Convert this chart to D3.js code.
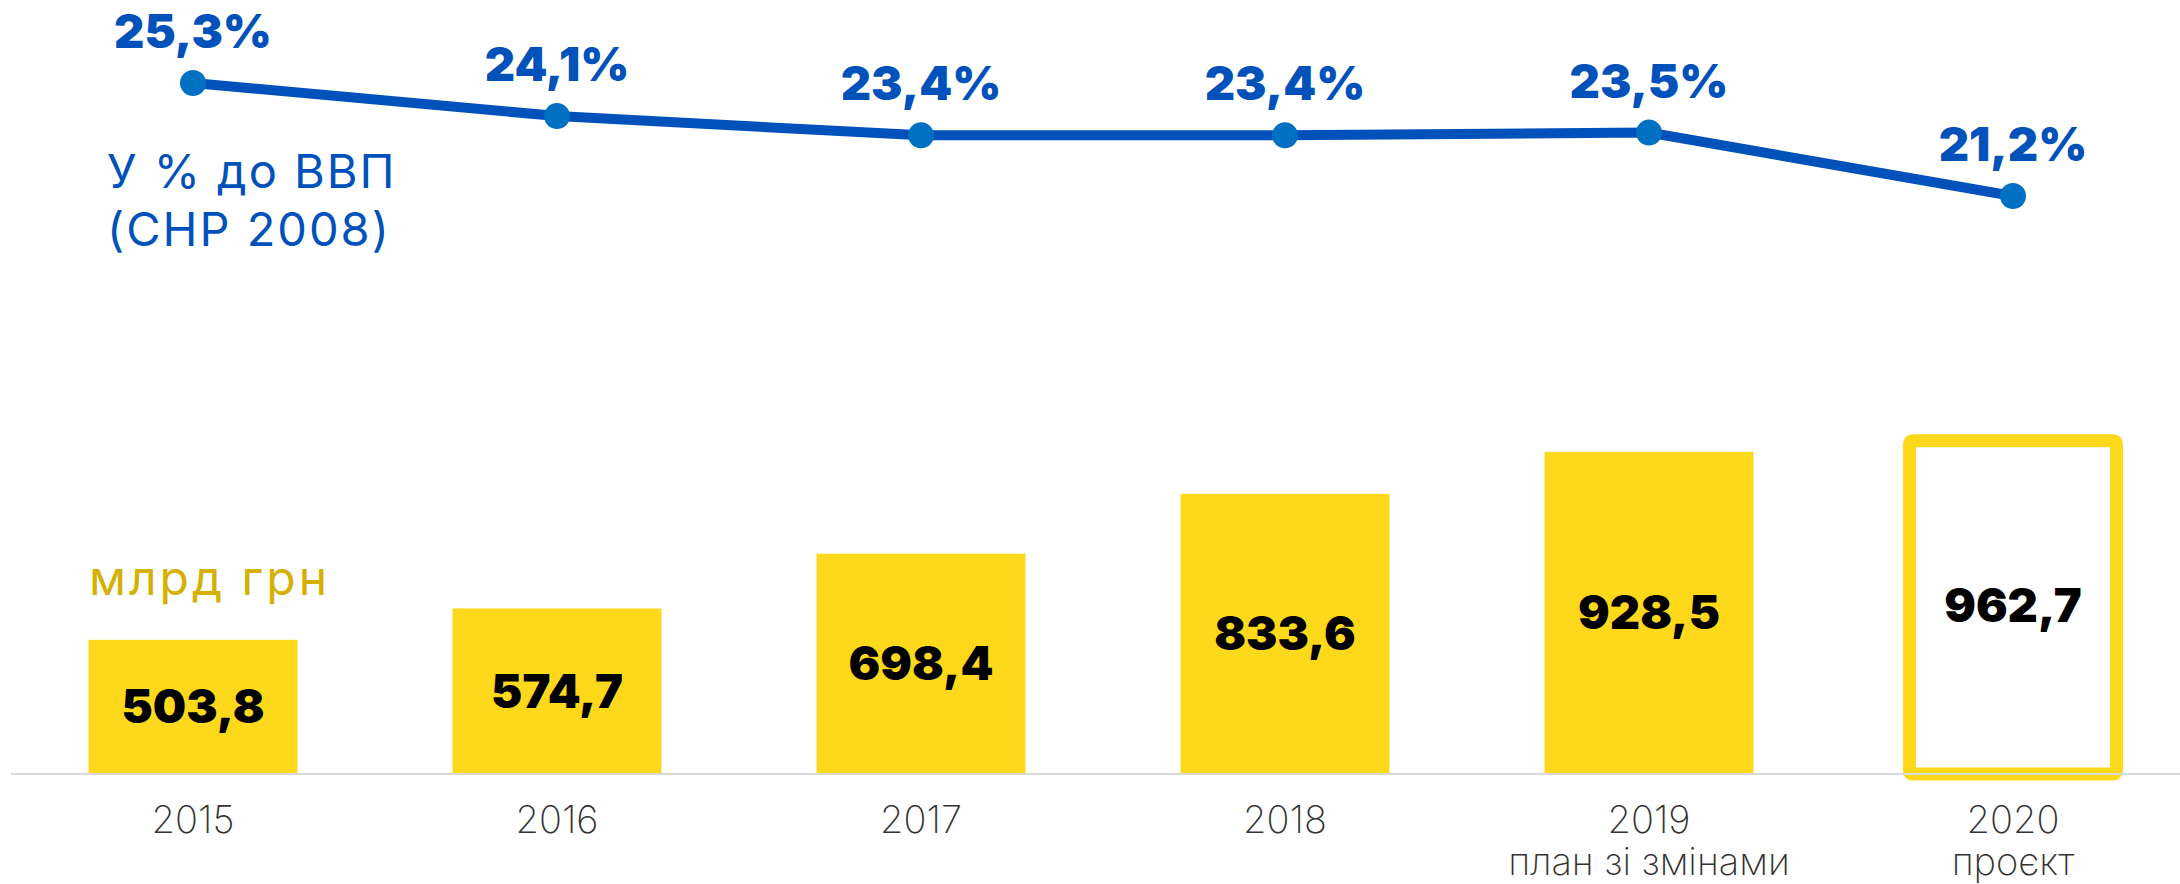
<!DOCTYPE html>
<html>
<head>
<meta charset="utf-8">
<script src="https://cdn.jsdelivr.net/npm/d3@7"></script>
<style>
  body { margin: 0; background: #fff; }
</style>
</head>
<body>
<div id="chart"></div>
<script>
const years = ["2015", "2016", "2017", "2018", "2019", "2020"];
const subLabels = ["", "", "", "", "план зі змінами", "проєкт"];
const spending = [503.8, 574.7, 698.4, 833.6, 928.5, 962.7];
const spendingText = ["503,8", "574,7", "698,4", "833,6", "928,5", "962,7"];
const gdpShare = [25.3, 24.1, 23.4, 23.4, 23.5, 21.2];
const gdpText = ["25,3%", "24,1%", "23,4%", "23,4%", "23,5%", "21,2%"];

const width = 2180, height = 884;
const baseY = 773;
const yellow = "#fed91b", blue = "#0052ba", dotBlue = "#0071c2";

const x = d3.scaleBand(years, [11, 2195]).paddingInner(0.426).paddingOuter(0.213);
// bars do not start from zero in the original picture
const yBar = d3.scaleLinear([203, 962.7], [baseY, 436.7]);
const yLine = d3.scaleLinear([21.2, 25.3], [196, 83]);

const svg = d3.select("#chart").append("svg")
    .attr("width", width)
    .attr("height", height)
    .attr("viewBox", [0, 0, width, height]);

const rows = years.map((y, i) => ({year: y, sub: subLabels[i], v: spending[i], vt: spendingText[i], p: gdpShare[i], pt: gdpText[i], last: i === years.length - 1}));

// bars
svg.append("g")
    .selectAll("rect")
    .data(rows)
    .join("rect")
        .attr("x", d => d.last ? x(d.year) + 1 : x(d.year))
        .attr("y", d => d.last ? yBar(d.v) + 4 : yBar(d.v))
        .attr("width", d => d.last ? x.bandwidth() - 2 : x.bandwidth())
        .attr("height", d => d.last ? baseY - yBar(d.v) - 3 : baseY - yBar(d.v))
        .attr("rx", d => d.last ? 3 : 0)
        .attr("fill", d => d.last ? "#fff" : yellow)
        .attr("stroke", d => d.last ? yellow : "none")
        .attr("stroke-width", 13);

// baseline
svg.append("line")
    .attr("x1", 11).attr("x2", width)
    .attr("y1", baseY + 1).attr("y2", baseY + 1)
    .attr("stroke", "#d9d9d9")
    .attr("stroke-width", 2);

// bar values
svg.append("g")
    .selectAll("text")
    .data(rows)
    .join("text")
        .attr("x", d => x(d.year) + x.bandwidth() / 2)
        .attr("y", d => (yBar(d.v) + baseY) / 2)
        .attr("dy", "0.36em")
        .attr("text-anchor", "middle")
        .style("font", "900 47px Inter, 'Open Sans', sans-serif")
        .attr("fill", "#000")
        .text(d => d.vt);

// year labels
const xl = svg.append("g")
    .selectAll("text")
    .data(rows)
    .join("text")
        .attr("x", d => x(d.year) + x.bandwidth() / 2)
        .attr("y", 833)
        .attr("text-anchor", "middle")
        .style("font", "200 38px Inter, 'Open Sans', sans-serif")
        .attr("fill", "#333");
xl.append("tspan").text(d => d.year);
xl.append("tspan")
    .attr("x", d => x(d.year) + x.bandwidth() / 2)
    .attr("dy", 42)
    .text(d => d.sub);

// line
const line = d3.line()
    .x(d => x(d.year) + x.bandwidth() / 2)
    .y(d => yLine(d.p));

svg.append("path")
    .datum(rows)
    .attr("fill", "none")
    .attr("stroke", blue)
    .attr("stroke-width", 10)
    .attr("d", line);

svg.append("g")
    .selectAll("circle")
    .data(rows)
    .join("circle")
        .attr("cx", d => x(d.year) + x.bandwidth() / 2)
        .attr("cy", d => yLine(d.p))
        .attr("r", 13)
        .attr("fill", dotBlue);

svg.append("g")
    .selectAll("text")
    .data(rows)
    .join("text")
        .attr("x", d => x(d.year) + x.bandwidth() / 2)
        .attr("y", d => yLine(d.p) - 35)
        .attr("text-anchor", "middle")
        .style("font", "900 47px Inter, 'Open Sans', sans-serif")
        .attr("fill", blue)
        .text(d => d.pt);

// side captions
const cap = svg.append("text")
    .attr("x", 107)
    .attr("y", 188)
    .style("font", "400 47px Inter, 'Open Sans', sans-serif")
    .style("letter-spacing", "2px")
    .attr("fill", blue);
cap.append("tspan").text("У % до ВВП");
cap.append("tspan").attr("x", 107).attr("dy", 58).text("(СНР 2008)");

svg.append("text")
    .attr("x", 89)
    .attr("y", 595)
    .style("font", "400 48px Inter, 'Open Sans', sans-serif")
    .style("letter-spacing", "3px")
    .attr("fill", "#d4b000")
    .text("млрд грн");
</script>
</body>
</html>
